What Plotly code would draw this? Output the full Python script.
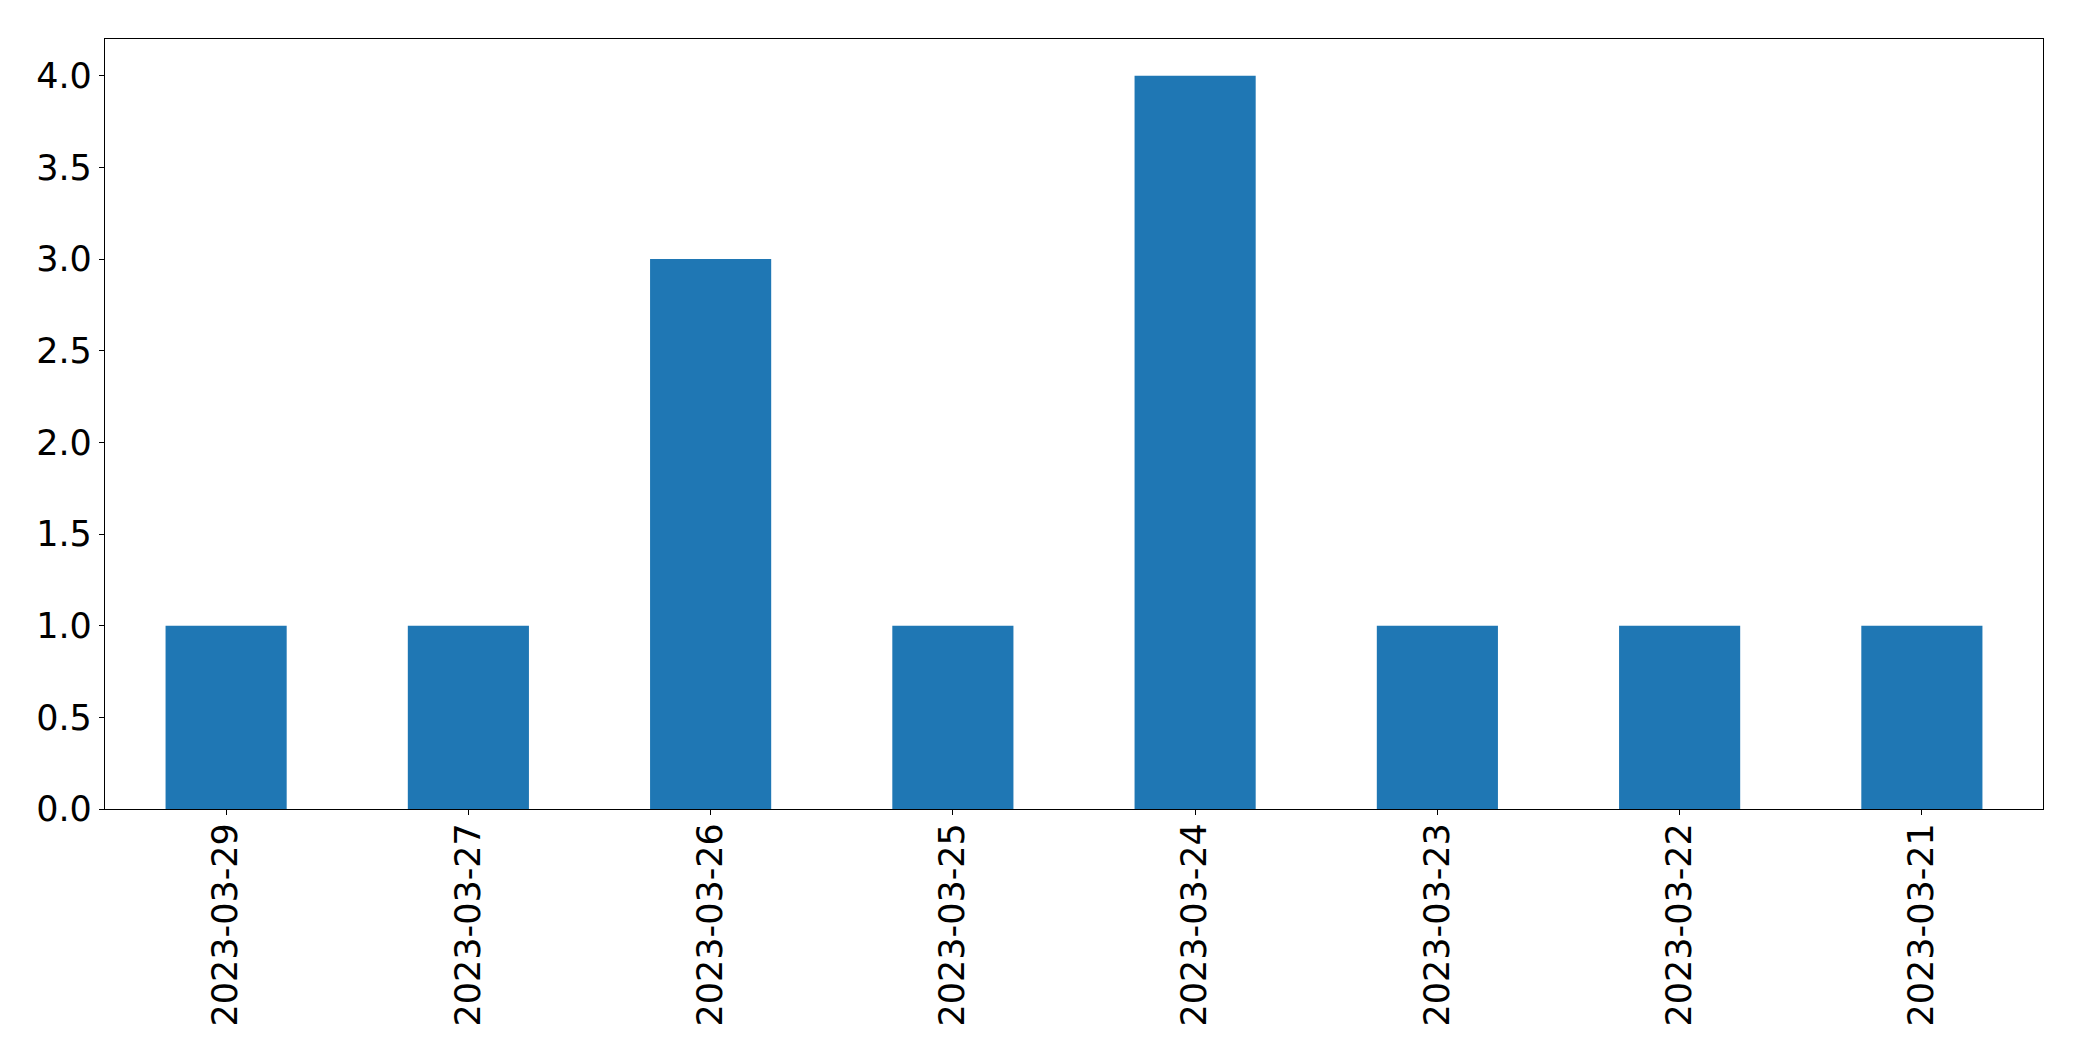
import plotly.graph_objects as go

dates = ["2023-03-29", "2023-03-27", "2023-03-26", "2023-03-25",
         "2023-03-24", "2023-03-23", "2023-03-22", "2023-03-21"]
counts = [1, 1, 3, 1, 4, 1, 1, 1]
y_ticks = [0.0, 0.5, 1.0, 1.5, 2.0, 2.5, 3.0, 3.5, 4.0]

fig = go.Figure(go.Bar(x=dates, y=counts, marker_color="#1f77b4",
                       marker_line_width=0))

fig.update_layout(
    width=2082, height=1061,
    margin=dict(l=105, r=39, t=39, b=252, pad=0),
    paper_bgcolor="white", plot_bgcolor="white",
    bargap=0.5, showlegend=False,
    font=dict(family="DejaVu Sans", size=35, color="black"),
)
fig.update_xaxes(
    type="category", range=[-0.5, 7.5], tickangle=-90,
    showline=True, mirror=True, linecolor="black", linewidth=1.3,
    ticks="outside", ticklen=5, tickwidth=1.3, tickcolor="black",
    showgrid=False, zeroline=False, ticklabelstandoff=-6,
)
fig.update_yaxes(
    range=[0, 4.2], tickvals=y_ticks, ticktext=[f"{v:.1f}" for v in y_ticks],
    showline=True, mirror=True, linecolor="black", linewidth=1.3,
    ticks="outside", ticklen=5, tickwidth=1.3, tickcolor="black",
    showgrid=False, zeroline=False, ticklabelstandoff=0,
)

fig.write_html("out.html", config={"displayModeBar": False},
               post_script="document.body.style.margin='0';")
